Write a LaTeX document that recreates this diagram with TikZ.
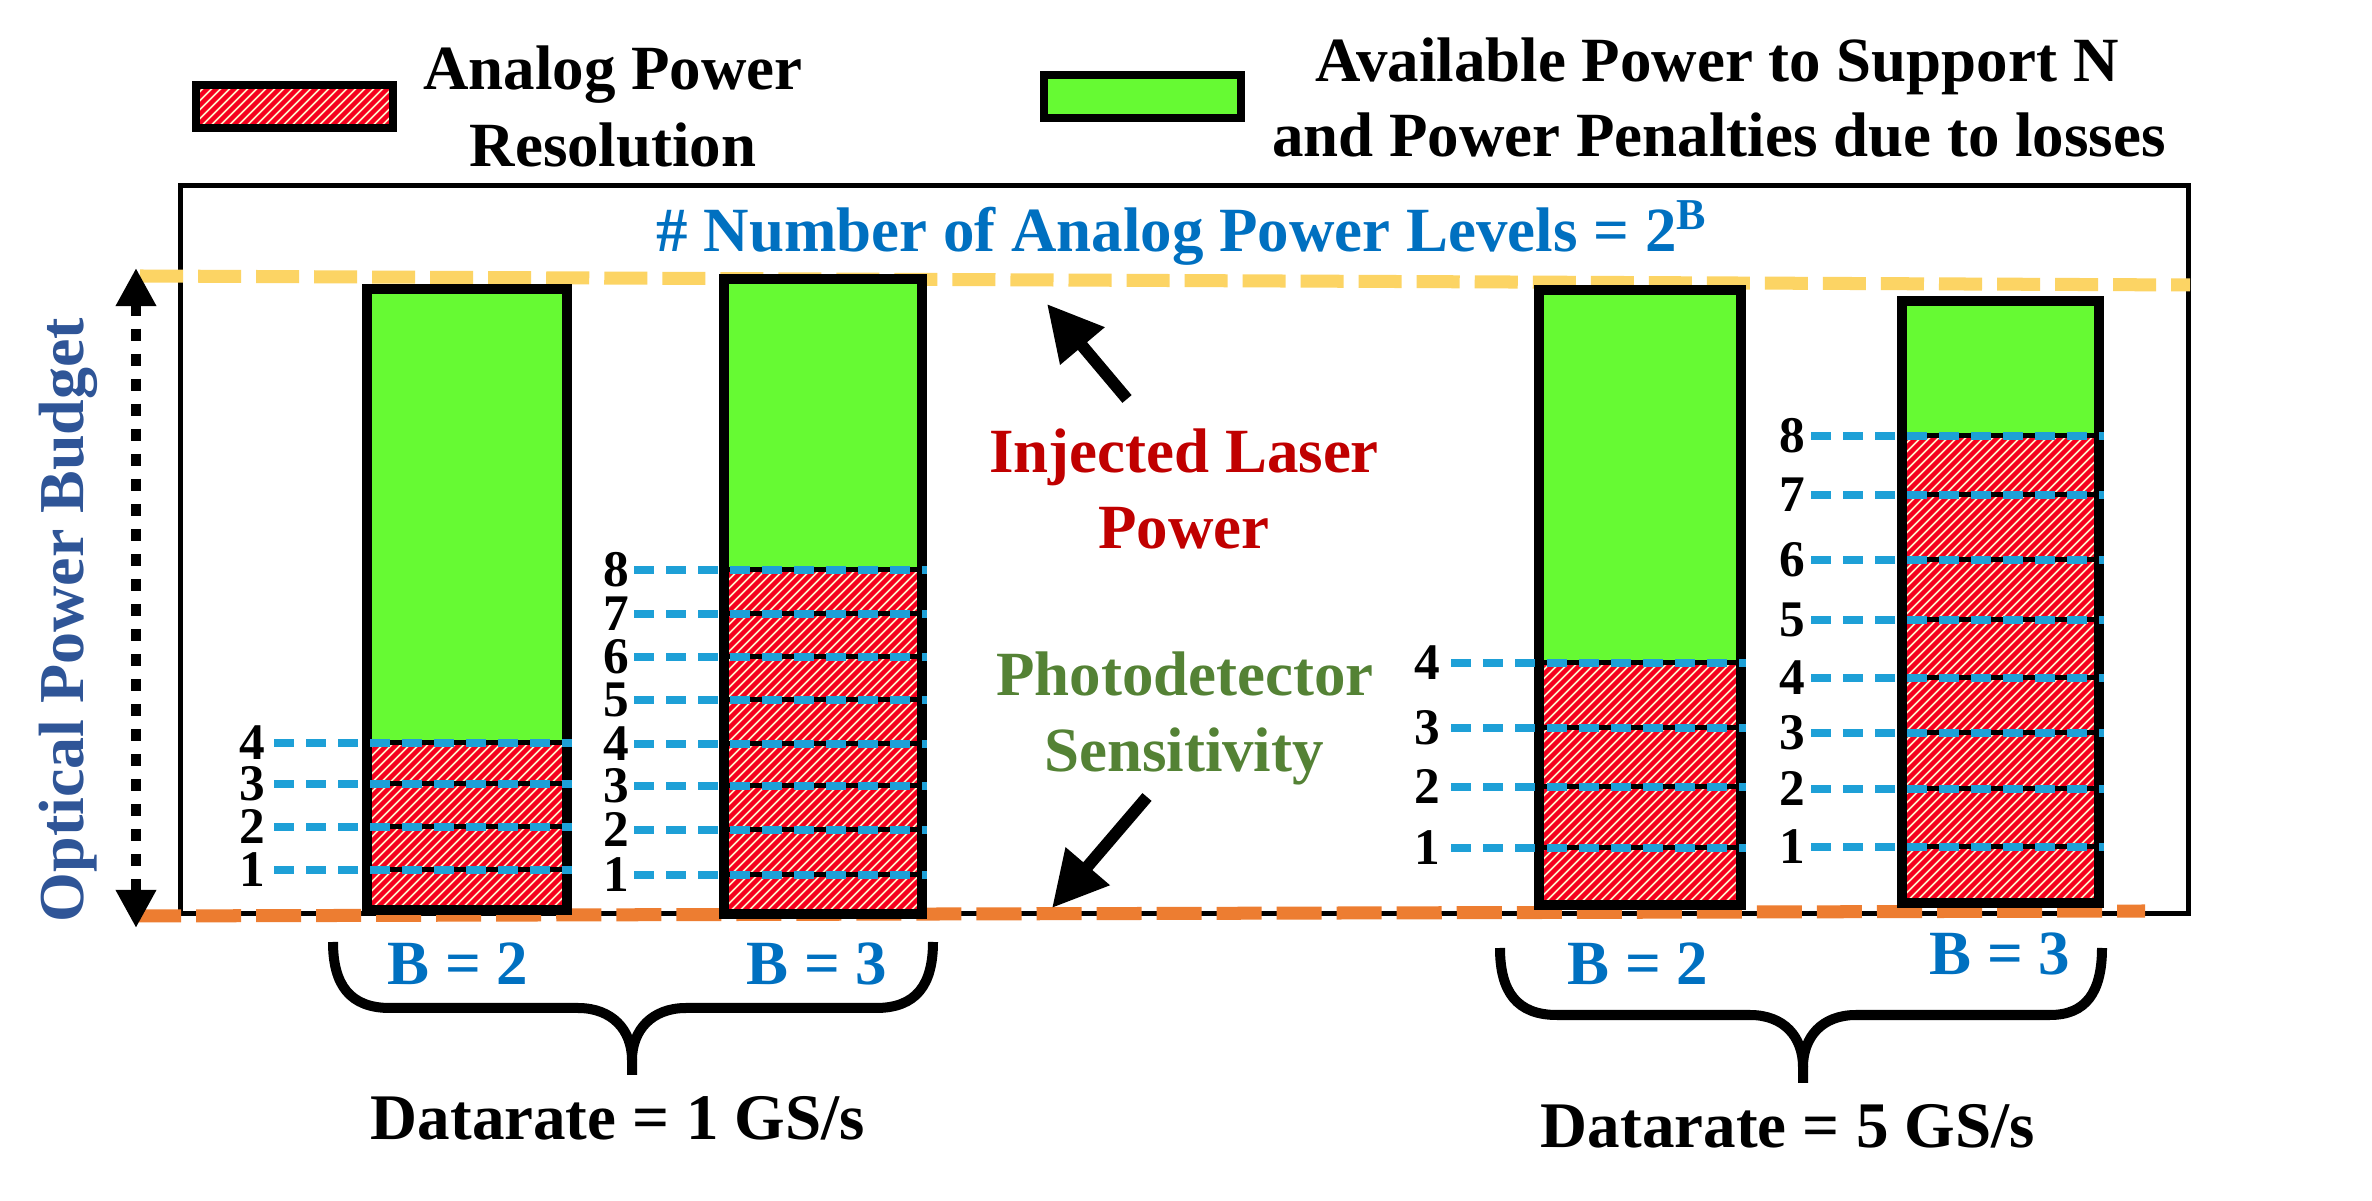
\documentclass[tikz,border=0pt]{standalone}
\usepackage{fontspec}
\setmainfont{Liberation Serif}
\usetikzlibrary{arrows.meta}
\definecolor{greenfill}{RGB}{102,250,51}
\definecolor{hatchred}{RGB}{245,0,30}
\definecolor{hatchbg}{RGB}{255,242,204}
\definecolor{budgetyellow}{RGB}{252,212,100}
\definecolor{sensorange}{RGB}{237,125,49}
\definecolor{levelblue}{RGB}{30,160,215}
\definecolor{titleblue}{RGB}{0,112,192}
\definecolor{axisblue}{RGB}{47,85,151}
\definecolor{laserred}{RGB}{192,0,0}
\definecolor{pdgreen}{RGB}{84,130,53}

% hatched (red diagonal stripes) rectangle: x1, ytop, x2, ybottom (px)
\newcommand\hatchbox[4]{%
  \begin{scope}
    \clip (#1,#2) rectangle (#3,#4);
    \fill[hatchbg] (#1,#2) rectangle (#3,#4);
    \foreach \hk in {-600,-591,...,300} {
      \draw[hatchred, line width=0.045cm] (#1+\hk,#4+5) -- ++(610,-610);
    }
  \end{scope}}

% bar: xl, xr, top, bottom, redtop, list level/y, number x, dash start x
\newcommand\powerbar[8]{%
  \fill[greenfill] (#1,#3) rectangle (#2,#5);
  \hatchbox{#1}{#5}{#2}{#4}
  \foreach \k/\yy in {#6} {
    \draw[divider] (#1,\yy) -- (#2,\yy);
  }
  \draw[barborder] (#1,#3) rectangle (#2,#4);
  \foreach \k/\yy in {#6} {
    \draw[leveldash] (#8,\yy) -- (#2+5,\yy);
    \node[numtxt] (num#7x\k) at (#7,\yy) {\k};
  }}

\begin{document}
\begin{tikzpicture}[x=0.01cm,y=-0.01cm,
  txt/.style={inner sep=0pt, anchor=base, font=\bfseries\fontsize{17.9pt}{21pt}\selectfont},
  numtxt/.style={inner sep=0pt, anchor=center, font=\bfseries\fontsize{14.6pt}{17pt}\selectfont},
  barborder/.style={draw=black, line width=0.1cm},
  legendborder/.style={draw=black, line width=0.08cm},
  divider/.style={draw=black, line width=0.05cm},
  leveldash/.style={draw=levelblue, line width=0.075cm, dash pattern=on 0.2cm off 0.12cm},
  bigarrow/.style={line width=0.12cm, -{Triangle[length=0.55cm,width=0.55cm]}},
  bracestyle/.style={line width=0.1cm},
  budgetline/.style={draw=budgetyellow, line width=0.13cm, dash pattern=on 0.43cm off 0.15cm},
  sensline/.style={draw=sensorange, line width=0.13cm, dash pattern=on 0.45cm off 0.15cm},
]
\useasboundingbox (0,0) rectangle (2372,1201);
\fill[white] (0,0) rectangle (2372,1201);

% legend
\hatchbox{196}{85}{393}{128}
\draw[legendborder] (196,85) rectangle (393,128);
\node[txt] (leg1a) at (613,90) {Analog Power};
\node[txt] (leg1b) at (613,167) {Resolution};
\fill[greenfill] (1044,75) rectangle (1241,118);
\draw[legendborder] (1044,75) rectangle (1241,118);
\node[txt] (leg2a) at (1717,82) {Available Power to Support N};
\node[txt] (leg2b) at (1719,157) {and Power Penalties due to losses};

% frame
\draw[line width=0.05cm] (180,186) rectangle (2188,914);
\node[txt, text=titleblue] (title) at (1182,252) {\# Number of Analog Power Levels = 2\textsuperscript{B}};

% budget and sensitivity lines
\coordinate (yl) at (140,276);
\coordinate (yr) at (2190,285);
\draw[budgetline] (yl) -- (yr);
\coordinate (ol) at (136,916);
\coordinate (or) at (2145,911);
\draw[sensline] (ol) -- (or);

% bars
\powerbar{367}{567}{289}{910}{741}{1/870,2/827,3/784,4/743}{252}{274}
\powerbar{724}{922}{279}{914}{570}{1/875,2/830,3/786,4/744,5/700,6/657,7/614,8/570}{616}{634}
\powerbar{1539}{1741}{290}{905}{662}{1/848,2/787,3/728,4/663}{1427}{1451}
\powerbar{1902}{2099}{301}{903}{436}{1/847,2/789,3/733,4/678,5/620,6/560,7/495,8/436}{1792}{1811}

% optical power budget arrow
\coordinate (vtop) at (136,268);
\coordinate (vbot) at (136,928);
\draw[line width=0.1cm, dash pattern=on 0.12cm off 0.13cm,
  {Triangle[length=0.38cm,width=0.38cm]}-{Triangle[length=0.38cm,width=0.38cm]}] (vtop) -- (vbot);
\node[txt, text=axisblue, rotate=90, font=\bfseries\fontsize{18.2pt}{21pt}\selectfont] (opb) at (83,620) {Optical Power Budget};

% injected laser power
\node[txt, text=laserred] (inj1) at (1184,473) {Injected Laser};
\node[txt, text=laserred] (inj2) at (1184,549) {Power};
\coordinate (injtail) at (1127,399);
\coordinate (injtip) at (1047,304);
\draw[bigarrow] (injtail) -- (injtip);

% photodetector sensitivity
\node[txt, text=pdgreen] (pd1) at (1185,696) {Photodetector};
\node[txt, text=pdgreen] (pd2) at (1184,772) {Sensitivity};
\coordinate (pdtail) at (1147,797);
\coordinate (pdtip) at (1052,908);
\draw[bigarrow] (pdtail) -- (pdtip);

% B labels
\node[txt, text=titleblue] (b1) at (458,985) {B = 2};
\node[txt, text=titleblue] (b2) at (817,985) {B = 3};
\node[txt, text=titleblue] (b3) at (1638,985) {B = 2};
\node[txt, text=titleblue] (b4) at (2000,975) {B = 3};

% braces
\draw[bracestyle] (333,942) .. controls (333,985) and (350,1008) .. (390,1008) -- (578,1008)
  .. controls (612,1008) and (632,1030) .. (632,1060) -- (632,1075);
\draw[bracestyle] (632,1060) .. controls (632,1030) and (652,1008) .. (686,1008) -- (876,1008)
  .. controls (916,1008) and (933,985) .. (933,942);
\draw[bracestyle] (1500,948) .. controls (1500,992) and (1517,1015) .. (1557,1015) -- (1750,1015)
  .. controls (1784,1015) and (1803,1037) .. (1803,1067) -- (1803,1083);
\draw[bracestyle] (1803,1067) .. controls (1803,1037) and (1822,1015) .. (1856,1015) -- (2050,1015)
  .. controls (2086,1015) and (2102,992) .. (2102,948);

\node[txt, font=\bfseries\fontsize{18.5pt}{21pt}\selectfont] (dr1) at (618,1140) {Datarate = 1 GS/s};
\node[txt, font=\bfseries\fontsize{18.5pt}{21pt}\selectfont] (dr5) at (1788,1148) {Datarate = 5 GS/s};
\end{tikzpicture}
\end{document}
